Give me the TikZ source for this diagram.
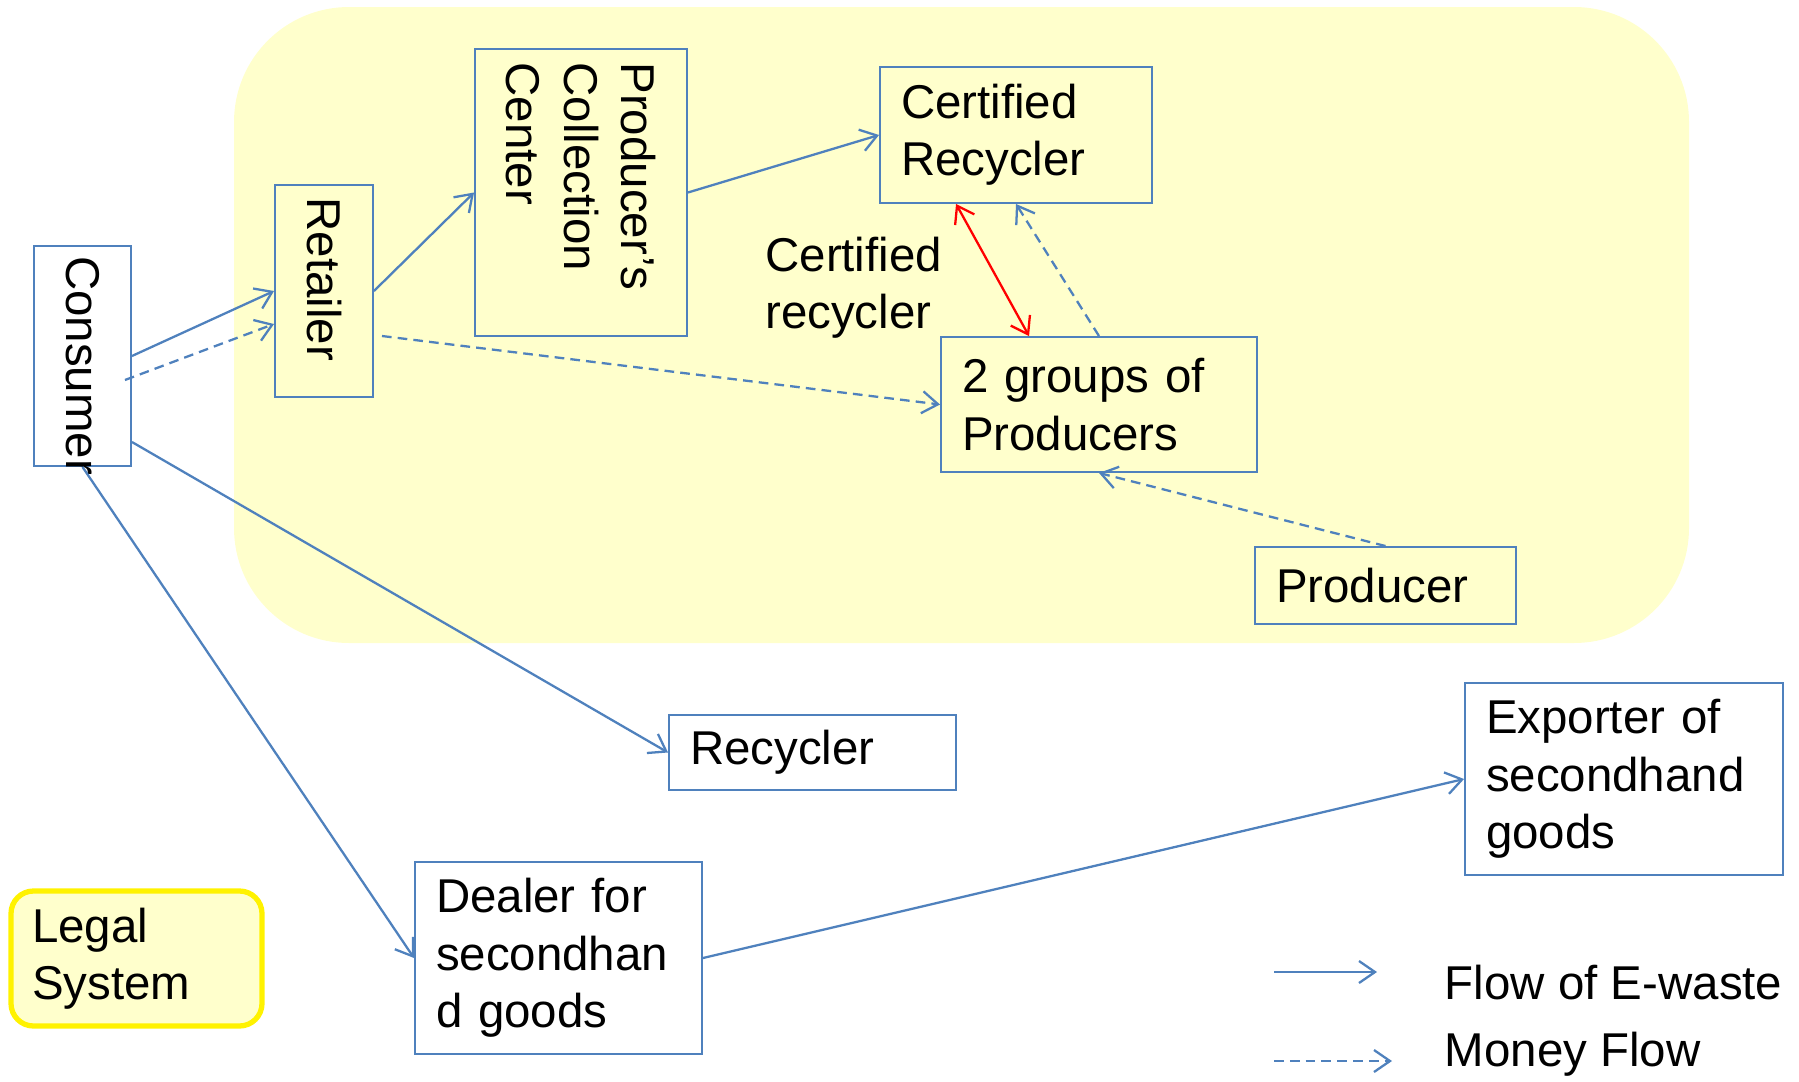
\documentclass[tikz,border=0pt]{standalone}
\usepackage{fontspec}
\setmainfont{Liberation Sans}
\usepackage{graphicx}
\usetikzlibrary{arrows.meta}

\definecolor{boxblue}{RGB}{79,129,189}
\definecolor{areayellow}{RGB}{255,255,204}

% rotated text, read from top to bottom
\newcommand{\vtext}[2]{\rotatebox{-90}{\begin{minipage}{#1}\raggedright #2\end{minipage}}}

\tikzset{
  every node/.style={font=\fontsize{27}{32.6}\selectfont},
  actor/.style={draw=boxblue, line width=1.1pt, inner xsep=0.42cm, inner ysep=0pt, align=left},
  vactor/.style={draw=boxblue, line width=1.1pt, inner sep=0pt},
  waste/.style={draw=boxblue, line width=1.3pt, -{Straight Barb[length=0.32cm,width=0.44cm]}},
  money/.style={waste, dash pattern=on 5.5pt off 3.5pt}
}

\begin{document}
\begin{tikzpicture}
        \useasboundingbox (0,0) rectangle (35.98,-21.62);

        % Area of the legal system
        \fill[areayellow, rounded corners=2.3cm] (4.68,-0.14) rectangle (33.78,-12.86);

        % Actors
        \node[vactor, minimum width=1.94cm, minimum height=4.4cm] (consumer) at (1.65,-7.12) {\vtext{4.0cm}{Consumer}};
        \node[vactor, minimum width=1.96cm, minimum height=4.24cm] (retailer) at (6.48,-5.82) {\vtext{3.74cm}{Retailer}};
        \node[vactor, minimum width=4.24cm, minimum height=5.74cm] (collect) at (11.62,-3.85) {\vtext{5.2cm}{Producer’s\\Collection\\Center}};
        \node[actor, text width=4.6cm, minimum height=2.72cm] (certrec) at (20.32,-2.70) {Certified\\Recycler};
        \node[actor, text width=5.48cm, minimum height=2.7cm] (groups) at (21.98,-8.09) {2 groups of\\Producers};
        \node[actor, text width=4.38cm, minimum height=1.54cm] (producer) at (27.71,-11.71) {Producer};
        \node[actor, text width=4.9cm, minimum height=1.5cm] (recycler) at (16.25,-15.05) {Recycler};
        \node[actor, text width=4.9cm, minimum height=3.84cm] (dealer) at (11.17,-19.16) {Dealer for\\secondhan\\d goods};
        \node[actor, text width=5.52cm, minimum height=3.84cm] (exporter) at (32.48,-15.58) {Exporter of\\secondhand\\goods};
        \node[actor, draw=yellow, fill=areayellow, line width=3pt, rounded corners=0.45cm, text width=4.18cm, minimum height=2.7cm] (legal) at (2.73,-19.17) {Legal\\System};

        % Label between the recyclers
        \node[anchor=west, inner sep=0pt, align=left] (certlabel) at (15.3,-5.76) {Certified\\recycler};

        % Flow of e-waste
        \draw[waste] (consumer.east) -- (retailer.west);
        \draw[waste] (retailer.east) -- (collect.west);
        \draw[waste] (collect.east) -- (certrec.west);
        \draw[waste] ([yshift=-1.72cm]consumer.east) -- (recycler.west);
        \draw[waste] (consumer.south) -- (dealer.west);
        \draw[waste] (dealer.east) -- (exporter.west);
        \draw[red, line width=1.3pt, {Straight Barb[length=0.32cm,width=0.44cm]}-{Straight Barb[length=0.32cm,width=0.44cm]}] ([xshift=1.54cm]certrec.south west) -- ([xshift=1.78cm]groups.north west);

        % Money flow
        \draw[money] ([xshift=-0.14cm,yshift=-0.48cm]consumer.east) -- ([yshift=-0.66cm]retailer.west);
        \draw[money] ([xshift=0.16cm,yshift=-0.9cm]retailer.east) -- (groups.west);
        \draw[money] (groups.north) -- (certrec.south);
        \draw[money] (producer.north) -- (groups.south);

        % Legend
        \coordinate (flowA) at (25.48,-19.44);
        \coordinate (flowB) at (27.54,-19.44);
        \coordinate (moneyA) at (25.48,-21.22);
        \coordinate (moneyB) at (27.84,-21.22);
        \draw[waste] (flowA) -- (flowB);
        \draw[money] (moneyA) -- (moneyB);
        \node[anchor=west, inner sep=0pt] (flowtext) at (28.89,-19.66) {Flow of E-waste};
        \node[anchor=west, inner sep=0pt] (moneytext) at (28.89,-21.08) {Money Flow};
    \end{tikzpicture}
\end{document}
